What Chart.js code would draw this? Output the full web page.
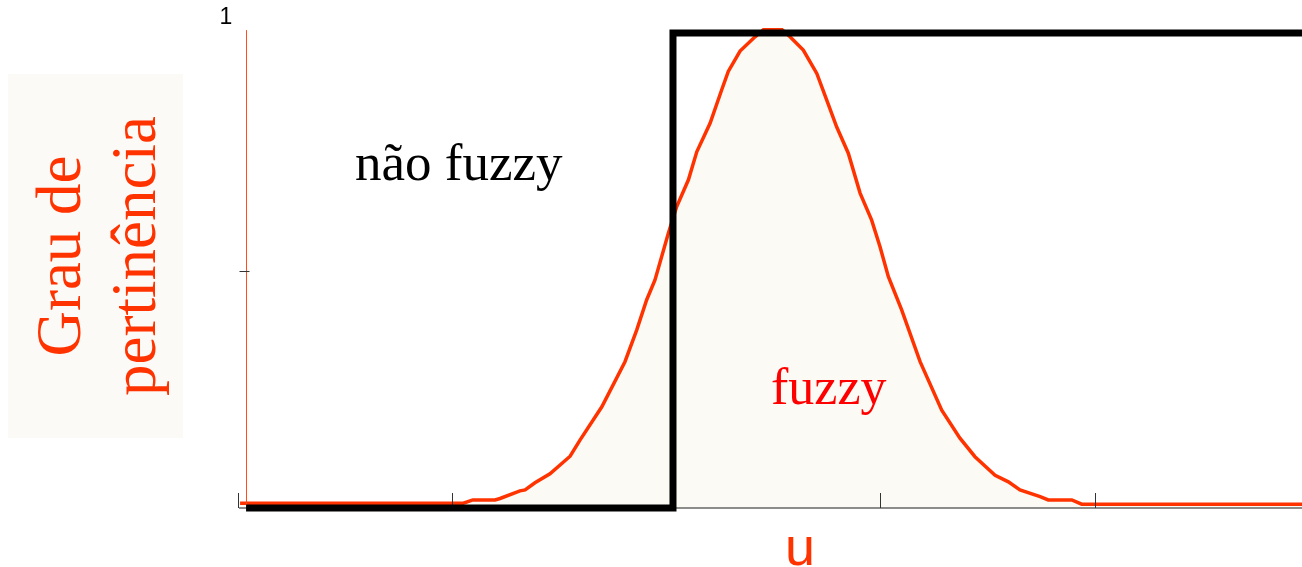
<!DOCTYPE html>
<html>
<head>
<meta charset="utf-8">
<title>Grau de pertinência</title>
<script src="https://cdn.jsdelivr.net/npm/chart.js@4/dist/chart.umd.min.js"></script>
<style>
  body { margin: 0; background: #fff; }
  #wrap { position: relative; width: 1302px; height: 567px; }
</style>
</head>
<body>
<div id="wrap"><canvas id="myChart"></canvas></div>
<script>
/** Data start */

// fuzzy membership curve (bell shape)
const fuzzyX = [0.012, 1.054, 1.098, 1.202, 1.225, 1.318, 1.342, 1.388, 1.458, 1.552, 1.598, 1.700,
  1.808, 1.863, 1.909, 1.948, 2.010, 2.049, 2.104, 2.143, 2.205, 2.259, 2.290, 2.345, 2.415, 2.454,
  2.541, 2.578, 2.640, 2.703, 2.749, 2.796, 2.850, 2.905, 2.959, 2.998, 3.037, 3.099, 3.185,
  3.286, 3.371, 3.441, 3.535, 3.597, 3.651, 3.745, 3.783, 3.893, 3.939, 4.967];
const fuzzyY = [0.010, 0.010, 0.017, 0.017, 0.020, 0.036, 0.038, 0.053, 0.072, 0.109, 0.143, 0.213,
  0.308, 0.375, 0.438, 0.480, 0.578, 0.634, 0.691, 0.750, 0.810, 0.880, 0.919, 0.962, 0.992, 1.007,
  1.007, 0.992, 0.964, 0.915, 0.859, 0.802, 0.747, 0.663, 0.606, 0.550, 0.487, 0.417, 0.308,
  0.206, 0.147, 0.108, 0.069, 0.055, 0.038, 0.024, 0.017, 0.017, 0.008, 0.008];

// crisp (não fuzzy) step
const crispX = [0.040, 2.032, 2.032, 4.967];
const crispY = [0, 0, 1, 1];

// axis ticks
const xTicks = [0, 1, 3, 4];
const yTicks = [0.5];
const yTopLabel = '1';

/** Data end */

function toPoints(xs, ys) {
  return xs.map((x, i) => ({ x: x, y: ys[i] }));
}

// axis lines, ticks and the text labels
const decorations = {
  id: 'decorations',
  afterDatasetDraw(chart, args) {
    if (args.index !== 1) return; // draw axes right after the curve, under the step
    const ctx = chart.ctx;
    const xs = chart.scales.x;
    const ys = chart.scales.y;
    const y0 = ys.getPixelForValue(0);
    ctx.save();
    // x axis
    ctx.strokeStyle = '#666';
    ctx.lineWidth = 1.5;
    ctx.beginPath();
    ctx.moveTo(239, y0);
    ctx.lineTo(chart.chartArea.right, y0);
    ctx.stroke();
    ctx.strokeStyle = '#333';
    ctx.lineWidth = 1;
    xTicks.forEach(v => {
      const px = Math.round(xs.getPixelForValue(v)) + 0.5;
      ctx.beginPath();
      ctx.moveTo(px, y0);
      ctx.lineTo(px, y0 - 15);
      ctx.stroke();
    });
    // y axis
    const yx = Math.round(xs.getPixelForValue(0.04)) + 0.5;
    ctx.strokeStyle = '#ff4d1a';
    ctx.beginPath();
    ctx.moveTo(yx, ys.getPixelForValue(1.006));
    ctx.lineTo(yx, y0 - 3);
    ctx.stroke();
    ctx.strokeStyle = '#333';
    yTicks.forEach(v => {
      const py = Math.round(ys.getPixelForValue(v)) + 0.5;
      ctx.beginPath();
      ctx.moveTo(yx - 7, py);
      ctx.lineTo(yx + 3, py);
      ctx.stroke();
    });
    ctx.restore();
  },
  afterDraw(chart) {
    const ctx = chart.ctx;
    const ys = chart.scales.y;
    ctx.save();
    ctx.textBaseline = 'alphabetic';

    ctx.fillStyle = '#000';
    ctx.font = '23px "Liberation Sans", Arial, sans-serif';
    ctx.textAlign = 'center';
    ctx.fillText(yTopLabel, 226, ys.getPixelForValue(1) - 9);

    ctx.textAlign = 'left';
    ctx.font = '53px "Liberation Serif", "Times New Roman", serif';
    ctx.fillText('não fuzzy', 355, 180);

    ctx.fillStyle = '#ff0000';
    ctx.font = '52px "Liberation Serif", "Times New Roman", serif';
    ctx.fillText('fuzzy', 771, 404);

    ctx.fillStyle = '#ff3300';
    ctx.font = '54px "Liberation Sans", Arial, sans-serif';
    ctx.textAlign = 'center';
    ctx.fillText('u', 800, 565);

    // y axis title on its own pale box
    ctx.fillStyle = '#fbfaf6';
    ctx.fillRect(8, 74, 175, 364);
    ctx.translate(95, 256);
    ctx.rotate(-Math.PI / 2);
    ctx.fillStyle = '#ff3300';
    ctx.font = '63px "Liberation Serif", "Times New Roman", serif';
    ctx.fillText('Grau de', 0, -15);
    ctx.fillText('pertinência', 0, 60);
    ctx.restore();
  }
};

const config = {
  type: 'line',
  data: {
    datasets: [
      {
        label: 'não fuzzy',
        data: toPoints(crispX, crispY),
        borderColor: '#000',
        borderWidth: 7,
        borderCapStyle: 'butt',
        borderJoinStyle: 'miter',
        pointRadius: 0,
        fill: false,
        tension: 0,
        clip: false,
        order: 1
      },
      {
        label: 'fuzzy',
        data: toPoints(fuzzyX, fuzzyY),
        borderColor: '#ff3300',
        borderWidth: 3.5,
        backgroundColor: '#fbfaf4',
        pointRadius: 0,
        fill: 'origin',
        tension: 0,
        clip: false,
        order: 2
      }
    ]
  },
  options: {
    responsive: true,
    maintainAspectRatio: false,
    animation: false,
    layout: { padding: { left: 237.5, right: 0, top: 23.5, bottom: 59 } },
    plugins: { legend: { display: false }, tooltip: { enabled: false } },
    scales: {
      x: { type: 'linear', min: 0, max: 4.967, display: false },
      y: { type: 'linear', min: 0, max: 1.02, display: false }
    }
  },
  plugins: [decorations]
};

// Render the chart
const myChart = new Chart(document.getElementById('myChart'), config);
</script>
</body>
</html>
